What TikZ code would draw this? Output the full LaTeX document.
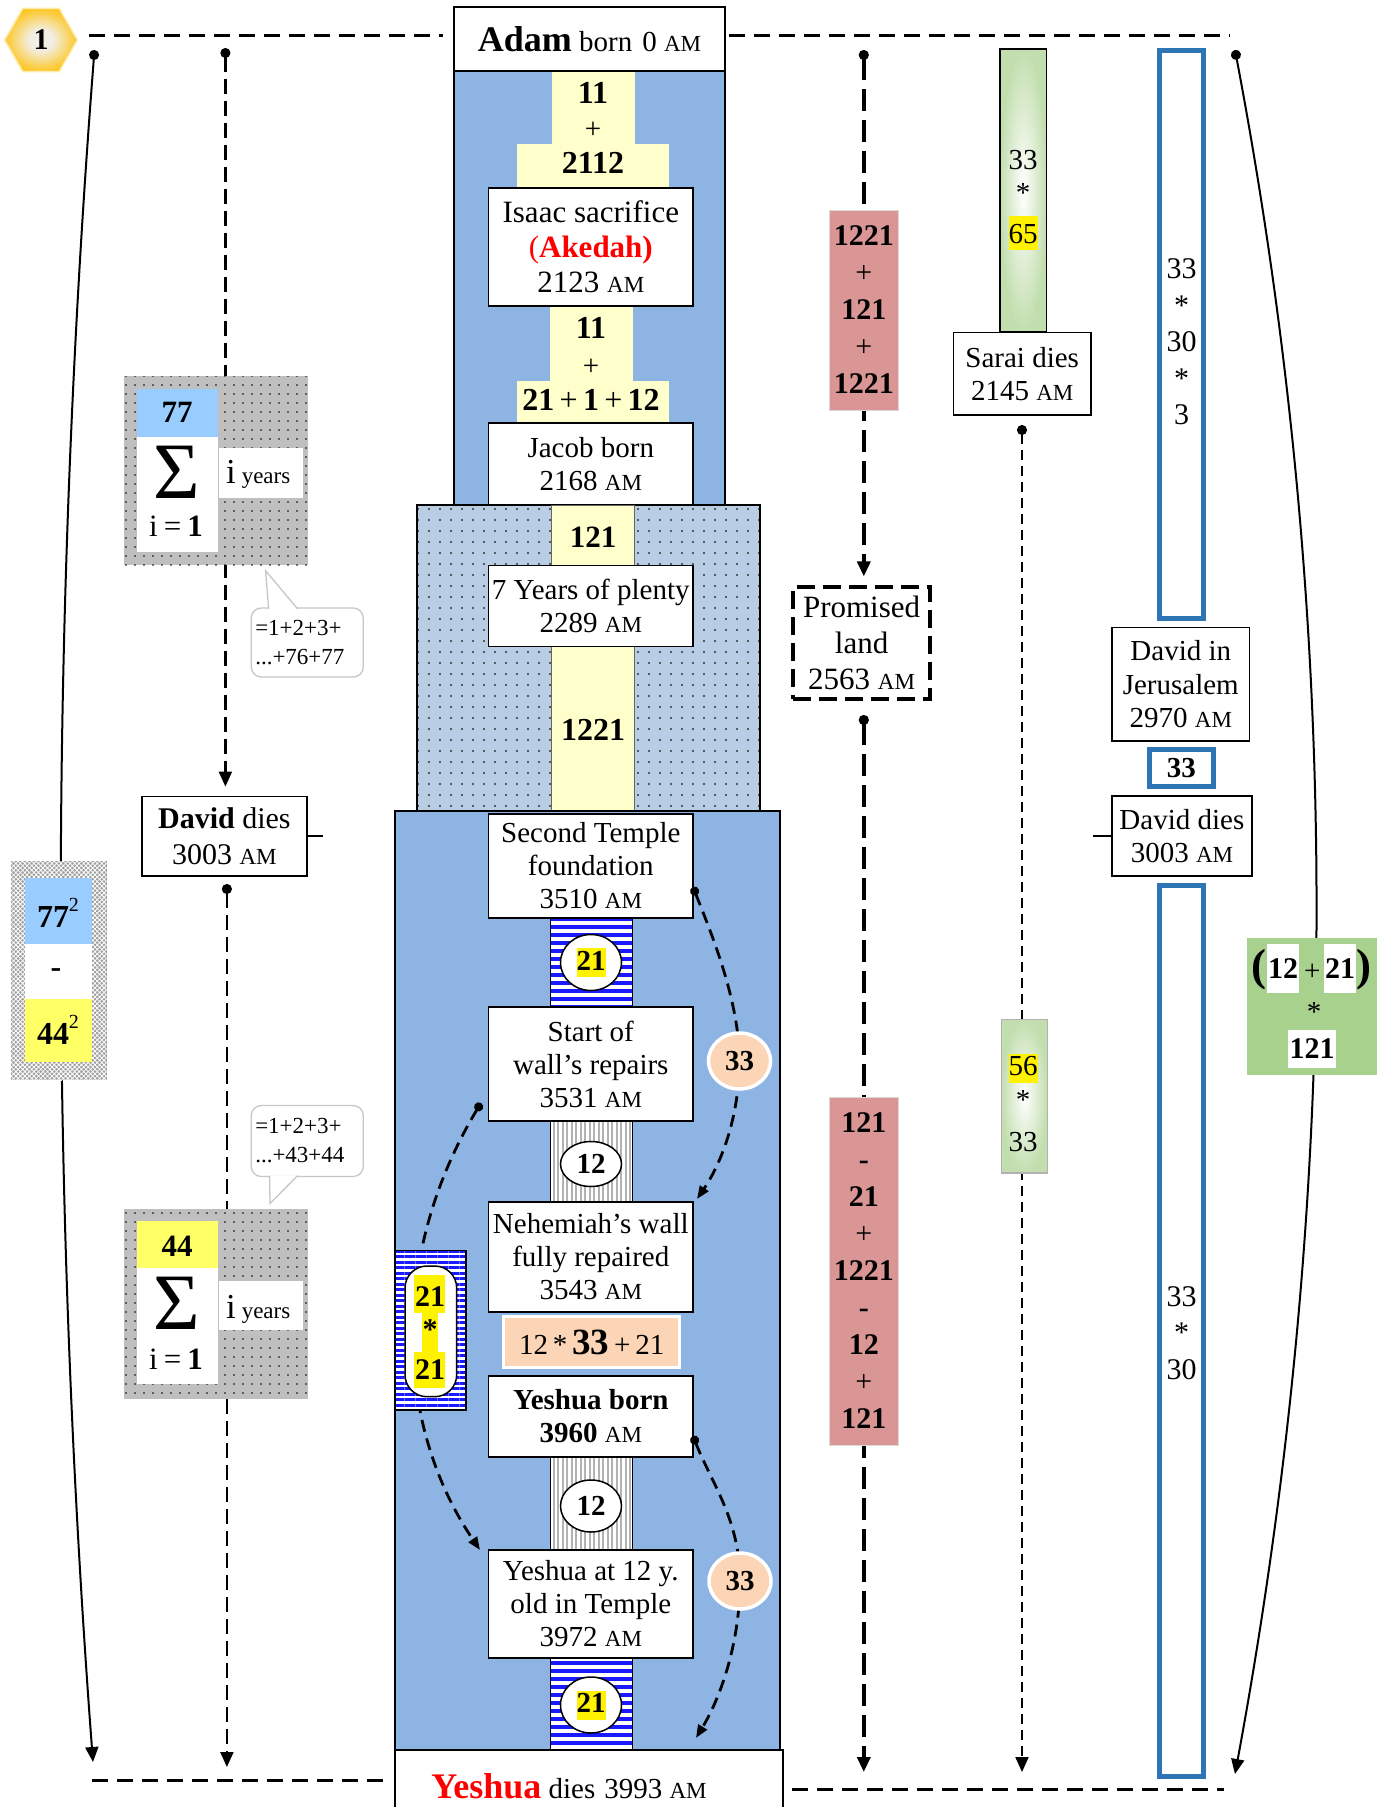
\documentclass[tikz,border=0pt]{standalone}
\usepackage{fontspec}
\setmainfont{Liberation Serif}
\usetikzlibrary{arrows.meta,patterns.meta,shapes.geometric,calc}
\pgfdeclarelayer{bg}
\pgfsetlayers{bg,main}
\definecolor{blueA}{HTML}{8EB4E3}
\definecolor{dotblue}{HTML}{B9CDE5}
\definecolor{lyel}{HTML}{FFFFCC}
\definecolor{peach}{HTML}{FBD5B5}
\definecolor{redbox}{HTML}{D99694}
\definecolor{bblue}{HTML}{2E75B6}
\definecolor{cellblue}{HTML}{99CCFF}
\definecolor{cellyel}{HTML}{FFFF66}
\definecolor{gbox}{HTML}{A9D18E}
\definecolor{sgreen}{HTML}{C2DEAE}
\definecolor{hexgold}{HTML}{FFC000}
\definecolor{hexlight}{HTML}{F2EEE4}
\definecolor{stripeblue}{HTML}{1A1AFF}
\pgfdeclareradialshading{hexsh}{\pgfpoint{0bp}{0bp}}{color(0bp)=(hexlight); color(8bp)=(hexlight); color(22bp)=(hexgold!70!hexlight); color(30bp)=(hexgold); color(50bp)=(hexgold)}
\newcommand\fsz[2]{\fontsize{#1}{#2}\selectfont}
\newcommand\amsc{{\fontsize{23}{26}\selectfont AM}}
\newcommand\hlite[2][1.0]{{\setlength{\fboxsep}{0pt}\colorbox{yellow}{\rule[-0.24em]{0pt}{#1em}#2}}}
\newcommand\sqtwo{\raisebox{16pt}{\fsz{20}{20}\mdseries 2}}
\begin{document}
\begin{tikzpicture}[x=1pt,y=-1pt,
 box/.style={draw,line width=1.6pt,fill=white,align=center,inner sep=0pt,font=\fsz{29}{33}},
 wh/.style 2 args={minimum width=#1pt,minimum height=#2pt},
 txt/.style={inner sep=0pt,align=center,font=\fsz{29}{33}},
 bnum/.style={inner sep=0pt,align=center,font=\fsz{32}{36}\bfseries},
 frame/.style={line width=3pt,dash pattern=on 16pt off 9pt},
 ldash/.style={line width=2.2pt,dash pattern=on 15pt off 7pt},
 pdash/.style={line width=3.5pt,dash pattern=on 22pt off 9pt},
 sdash/.style={line width=2pt,dash pattern=on 10pt off 6pt},
 cdash/.style={line width=2.8pt,dash pattern=on 12pt off 7pt},
 dotarr/.style={{Circle[length=10pt]}-{Triangle[length=15pt,width=13pt]}},
 carr/.style={{Circle[length=9pt]}-{Triangle[length=13pt,width=10pt]}},
 circ/.style={ellipse,draw,line width=1.5pt,fill=white,inner sep=0pt,font=\fsz{29}{33}\bfseries},
 pcirc/.style={ellipse,draw=white,line width=3.5pt,fill=peach,inner sep=0pt,font=\fsz{29}{33}\bfseries,minimum width=62pt,minimum height=56pt},
 bstripe/.style={preaction={fill=white},pattern={Lines[angle=0,distance=8pt,line width=4.5pt]},pattern color=stripeblue},
 gstripe/.style={preaction={fill=white},pattern={Lines[angle=90,distance=4.5pt,line width=2pt]},pattern color=gray!60},
 bub/.style={draw=gray!45,line width=1.3pt,fill=white,rounded corners=10pt,inner sep=4pt,text width=104pt,align=left,font=\fsz{23}{29}},
 redcol/.style={draw=gray!30,line width=1pt,fill=redbox,align=center,inner sep=0pt,font=\fsz{30}{37}\bfseries},
 bluerect/.style={draw=bblue,line width=5pt,inner sep=0pt},
]
\useasboundingbox (0,0) rectangle (1385,1807);

% ---------------- central column, upper part
\draw[fill=blueA,line width=1.2pt] (454,71) rectangle (725,505);
\fill[lyel] (551.6,70) rectangle (635,144);
\fill[lyel] (517,144) rectangle (669,187);
\fill[lyel] (550,305) rectangle (632.6,381);
\fill[lyel] (517,381) rectangle (669,423);
\node[bnum] at (593,93) {11};
\node[txt] at (593,130) {+};
\node[bnum] at (593,163) {2112};
\node[bnum] at (591,328) {11};
\node[txt] at (591,367) {+};
\node[bnum] at (591,400) {21\,\textmd{+}\,1\,\textmd{+}\,12};
\node[box,wh={271}{64}] (adam) at (589.5,39) {{\fsz{36}{40}\bfseries Adam} born\hspace{10pt}0 \amsc};
\node[box,wh={204.4}{118},font=\fsz{31}{35}] (isaac) at (590.8,246.7) {Isaac sacrifice\\{\color{red}(\textbf{Akedah)}}\\2123 \amsc};
\node[box,wh={204.4}{82}] (jacob) at (590.8,464) {Jacob born\\2168 \amsc};

% ---------------- dotted part
\fill[dotblue] (417,505) rectangle (760,812);
\fill[pattern={Dots[radius=1.1pt,distance=11pt]},pattern color=black!80] (417,505) rectangle (760,812);
\draw[line width=1.2pt] (417,505) rectangle (760,812);
\draw[fill=lyel,draw=black!60,line width=0.8pt] (551.6,505) rectangle (634,812);
\node[bnum,font=\fsz{31}{35}\bfseries] at (593,537.5) {121};
\node[box,wh={204.4}{81}] (plenty) at (590.8,606) {7 Years of plenty\\2289 \amsc};
\node[bnum] at (593,730) {1221};

% ---------------- lower blue part
\draw[fill=blueA,line width=1.2pt] (395,811) rectangle (780,1750);
\draw[bstripe,line width=1pt] (550,918) rectangle (632.6,1007);
\draw[gstripe,line width=1pt] (550,1121) rectangle (632.6,1202);
\draw[gstripe,line width=1pt] (550,1457) rectangle (632.6,1550);
\draw[bstripe,line width=1pt] (550,1658) rectangle (632.6,1749);
\node[box,wh={204.4}{104}] (temple) at (590.8,866) {Second Temple\\foundation\\3510 \amsc};
\node[box,wh={204.4}{114}] (wall) at (590.8,1064) {Start of\\wall’s repairs\\3531 \amsc};
\node[box,wh={204.4}{110}] (nehem) at (590.8,1257) {Nehemiah’s wall\\fully repaired\\3543 \amsc};
\node[draw=white,line width=3.5pt,fill=peach,wh={176}{51},inner sep=0pt,font=\fsz{29}{33}] (formula) at (591.7,1342) {12\,*\,{\fsz{37}{40}\bfseries 33}\,+\,21};
\node[box,wh={204.4}{81}] (yborn) at (590.8,1416.5) {\textbf{Yeshua born}\\\textbf{3960} \amsc};
\node[box,wh={204.4}{108}] (y12) at (590.8,1604) {Yeshua at 12 y.\\old in Temple\\3972 \amsc};
\node[box,wh={388}{72}] (ydies) at (589,1786) {{\fsz{36}{40}\bfseries\color{red}Yeshua} dies\hspace{9pt}3993 \amsc\hspace*{40pt}};

% dashed curved arrows in blue part
\coordinate (k33a) at (739.5,1061);
\coordinate (k33b) at (740,1581);
\coordinate (a1s) at (693,887);
\coordinate (a1e) at (697,1199);
\coordinate (a2s) at (693,1436);
\coordinate (a2e) at (696,1738);
\coordinate (bs) at (481,1103);
\coordinate (be) at (480,1550);
\draw[cdash,carr] (a1s) .. controls (712,935) and (739,1000) .. (k33a) .. controls (739,1120) and (720,1165) .. (a1e);
\draw[cdash,carr] (a2s) .. controls (712,1484) and (740,1520) .. (k33b) .. controls (740,1640) and (722,1695) .. (a2e);
\draw[cdash,carr] (bs) .. controls (392,1250) and (392,1420) .. (be);

% 21*21 block
\draw[line width=1.2pt,preaction={fill=white},pattern={Lines[angle=0,distance=5.5pt,line width=3pt]},pattern color=stripeblue] (395,1250.5) rectangle (466,1410);
\draw[line width=1.5pt,fill=white,rounded corners=22pt] (405,1266) rectangle (456.7,1396.7);
\fill[yellow] (414,1275) rectangle (445,1313);
\fill[yellow] (422,1312) rectangle (438,1353);
\fill[yellow] (414,1352) rectangle (445,1388);
\node[bnum,font=\fsz{30}{33}\bfseries] at (430,1296.7) {21};
\node[bnum,font=\fsz{30}{33}\bfseries] at (430,1330) {*};
\node[bnum,font=\fsz{30}{33}\bfseries] at (430,1370) {21};

% circles
\node[circ,wh={61}{56}] (c21a) at (591,962.5) {\hlite{21}};
\node[circ,wh={61}{45}] (c12a) at (591,1164) {12};
\node[circ,wh={61}{52}] (c12b) at (591,1506) {12};
\node[circ,wh={61}{56}] (c21b) at (591,1705) {\hlite{21}};
\node[pcirc] (c33a) at (k33a) {33};
\node[pcirc] (c33b) at (k33b) {33};

% ---------------- left side
\node[regular polygon,regular polygon sides=6,minimum size=73pt,inner sep=0pt,draw=hexgold!30,line width=1.5pt,shading=hexsh,font=\fsz{30}{33}\bfseries] (hex) at (41,40) {1};

\node[wh={96}{219},inner sep=0pt,preaction={fill=gray!75},pattern={Hatch[angle=45,distance=3.2pt,line width=0.8pt]},pattern color=white] (sq) at (58.6,970.5) {};
\fill[cellblue] (25,878) rectangle (92,944);
\fill[white] (25,944) rectangle (92,999);
\fill[cellyel] (25,999) rectangle (92,1062);
\node[inner sep=0pt,font=\fsz{32}{32}\bfseries] at (58,913) {77\sqtwo};
\node[inner sep=0pt,font=\fsz{32}{32}\bfseries] at (56,973) {-};
\node[inner sep=0pt,font=\fsz{32}{32}\bfseries] at (58,1030) {44\sqtwo};

\node[wh={184.2}{189.4},inner sep=0pt,preaction={fill=gray!50},pattern={Dots[radius=0.9pt,distance=9pt]},pattern color=black] (sum1) at (215.7,470.7) {};
\fill[cellblue] (136.7,389.3) rectangle (218,436.7);
\fill[white] (136.7,436.7) rectangle (218,551.8);
\fill[white] (219,448) rectangle (303,498);
\node[inner sep=0pt,font=\fsz{31}{31}\bfseries] at (177,412) {77};
\node[inner sep=0pt,font=\fsz{80}{80}] at (177,472) {Σ};
\node[inner sep=0pt,anchor=base west] at (226,483) {\fsz{35}{35}i\,\fsz{23}{23}years};
\node[inner sep=0pt,anchor=base] at (176,536) {\fsz{31}{31}i\hspace{6pt}=\hspace{6pt}\textbf{1}};

\node[wh={184.2}{189.6},inner sep=0pt,preaction={fill=gray!50},pattern={Dots[radius=0.9pt,distance=9pt]},pattern color=black] (sum2) at (215.7,1303.8) {};
\fill[cellyel] (136.7,1221.4) rectangle (218,1268);
\fill[white] (136.7,1268) rectangle (218,1384);
\fill[white] (219,1281) rectangle (303,1330);
\node[inner sep=0pt,font=\fsz{31}{31}\bfseries] at (177,1246) {44};
\node[inner sep=0pt,font=\fsz{80}{80}] at (177,1303) {Σ};
\node[inner sep=0pt,anchor=base west] at (226,1318) {\fsz{35}{35}i\,\fsz{23}{23}years};
\node[inner sep=0pt,anchor=base] at (176,1369) {\fsz{31}{31}i\hspace{6pt}=\hspace{6pt}\textbf{1}};

\node[bub,minimum height=69pt] (bub1) at (307.25,642.5) {=1+2+3+\\...+76+77};
\draw[gray!45,line width=1.3pt,fill=white] ($(bub1.north west)+(18,1.5)$) -- (265.6,570.7) -- ($(bub1.north west)+(47,1.5)$);
\node[bub,minimum height=71pt] (bub2) at (307.25,1141) {=1+2+3+\\...+43+44};
\draw[gray!45,line width=1.3pt,fill=white] ($(bub2.south west)+(19,-1.5)$) -- (270,1203.5) -- ($(bub2.south west)+(47,-1.5)$);

\node[box,wh={164.8}{79.6},font=\fsz{30}{36}] (dd1) at (224.4,836.2) {\textbf{David} dies\\3003 \amsc};

% ---------------- right side
\node[redcol,wh={68.3}{200}] (rb1) at (863.85,310) {1221\\\textmd{+}\\121\\\textmd{+}\\1221};
\node[box,line width=3.5pt,dash pattern=on 18pt off 8pt,wh={137}{112},font=\fsz{31}{36}] (pl) at (861.6,643.2) {Promised\\land\\2563 \amsc};
\node[redcol,wh={68.3}{348}] (rb2) at (863.85,1271) {121\\-\\21\\\textmd{+}\\1221\\-\\12\\\textmd{+}\\121};

\node[draw,line width=1.2pt,inner color=white,outer color=sgreen,wh={46.4}{283}] (g1) at (1023.2,190.5) {};
\node[txt] at (1023,160) {33};
\node[txt] at (1023,193) {*};
\node[txt] at (1023,233) {\hlite[1.2]{65}};
\node[box,wh={137.6}{82.7}] (sd) at (1022.2,373.7) {Sarai dies\\2145 \amsc};
\node[draw=gray!60,line width=1.5pt,inner color=white,outer color=sgreen,wh={45.9}{153.4}] (g2) at (1024.35,1096.3) {};
\node[txt] at (1023,1068) {\hlite{56}};
\node[txt] at (1023,1100) {*};
\node[txt] at (1023,1142) {33};

\node[bluerect,wh={43.5}{567.4}] (br1) at (1181.65,334.5) {};
\node[txt,font=\fsz{30}{36.5}] at (1181.65,342) {33\\*\\30\\*\\3};
\node[box,wh={137.6}{113.5},font=\fsz{29}{33.5}] (dj) at (1180.8,684.25) {David in\\Jerusalem\\2970 \amsc};
\node[bluerect,fill=white,wh={63.5}{37},font=\fsz{29}{33}\bfseries] (b33) at (1181.25,768) {33};
\node[box,wh={139.8}{80.3}] (dd2) at (1181.9,835.85) {David dies\\3003 \amsc};
\node[bluerect,wh={43.5}{891}] (br2) at (1181.65,1331) {};
\node[txt,font=\fsz{30}{36.5}] at (1181.65,1333) {33\\*\\30};

\node[fill=gbox,wh={130}{137},inner sep=0pt] (gb) at (1312,1006.5) {};
\node[inner sep=0pt,font=\fsz{45}{45}\bfseries] at (1258.5,970) {(};
\node[fill=white,inner sep=0pt,wh={32.6}{48.7},font=\fsz{30}{30}\bfseries] at (1283,968.4) {12};
\node[inner sep=0pt,font=\fsz{29}{29}] at (1312.3,972) {+};
\node[fill=white,inner sep=0pt,wh={32}{48.7},font=\fsz{30}{30}\bfseries] at (1340,968.4) {21};
\node[inner sep=0pt,font=\fsz{45}{45}\bfseries] at (1364.2,970) {)};
\node[inner sep=0pt,font=\fsz{29}{29}] at (1314,1012) {*};
\node[fill=white,inner sep=0pt,wh={47.7}{37.7},font=\fsz{30}{30}\bfseries] at (1312.2,1048.8) {121};

% ---------------- connectors (behind)
\coordinate (tl) at (89,35);
\coordinate (tr) at (1230,35);
\coordinate (bl) at (92,1780);
\coordinate (br) at (1224,1789);
\coordinate (l1) at (94.5,50);
\coordinate (l2) at (93,1762);
\coordinate (r1) at (1235,50);
\coordinate (r2) at (1235,1774);
\coordinate (d1) at (225.4,48);
\coordinate (d2) at (226.9,884);
\coordinate (d2e) at (226.9,1767);
\coordinate (p1) at (863.8,50);
\coordinate (p2) at (863.8,715);
\coordinate (p2e) at (863.8,1772);
\coordinate (s1) at (1022,425);
\coordinate (s1e) at (1022,1772);
\begin{pgfonlayer}{bg}
\draw[frame,shorten >=10pt] (tl) -- (tl -| adam.west);
\draw[frame,shorten <=3pt] (tr -| adam.east) -- (tr);
\draw[frame,shorten >=10pt] (bl) -- (bl -| ydies.west);
\draw[frame,shorten <=8pt] (br -| ydies.east) -- (br);
\draw[line width=2pt,dotarr] (l1) .. controls (50,620) and (50,1190) .. (l2);
\draw[line width=2pt,dotarr] (r1) .. controls (1343,620) and (1343,1190) .. (r2);
\draw[ldash,dotarr,shorten >=9pt] (d1) -- (d1 |- dd1.north);
\draw[ldash,dotarr] (d2) -- (d2e);
\draw[pdash,dotarr,shorten >=9pt] (p1) -- (p1 |- pl.north);
\draw[pdash,dotarr] (p2) -- (p2e);
\draw[sdash,dotarr] (s1) -- (s1e);
\draw[line width=1.6pt] (dd1.east) -- ++(15.5,0);
\draw[line width=1.6pt] (dd2.west) -- ++(-18,0);
\end{pgfonlayer}
\end{tikzpicture}
\end{document}
